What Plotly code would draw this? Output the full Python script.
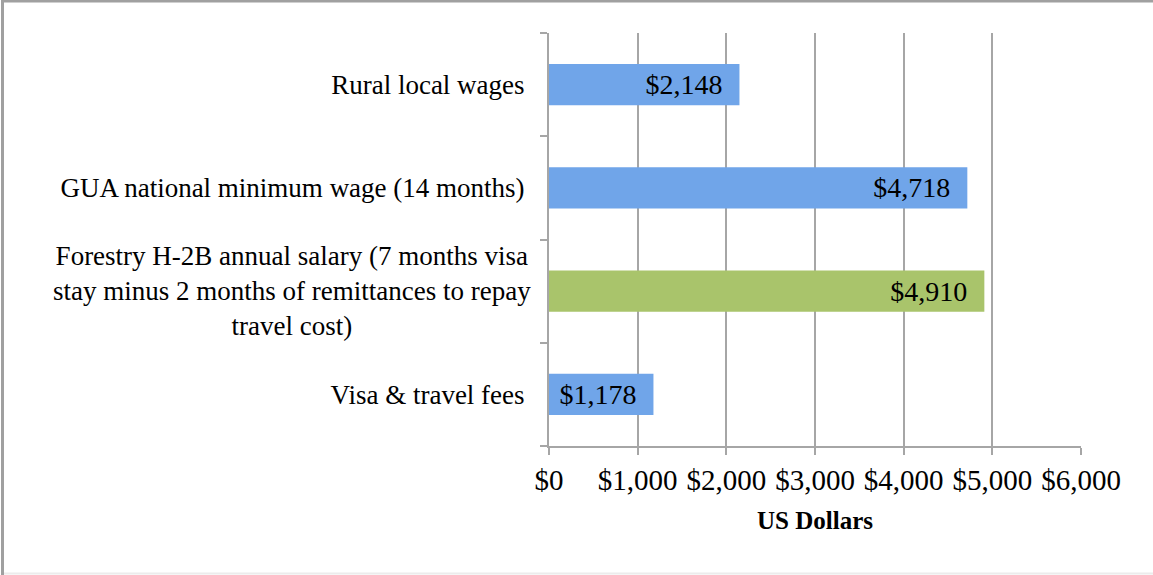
import plotly.graph_objects as go

categories = [
    "Rural local wages",
    "GUA national minimum wage (14 months)",
    "Forestry H-2B annual salary (7 months visa stay minus 2 months of remittances to repay travel cost)",
    "Visa & travel fees",
]
tick_labels = [
    "Rural local wages",
    "GUA national minimum wage (14 months)",
    "",
    "Visa & travel fees",
]
long_label = "Forestry H-2B annual salary (7 months visa<br>stay minus 2 months of remittances to repay<br>travel cost)"
values = [2148, 4718, 4910, 1178]
bar_colors = ["#70a5e9", "#70a5e9", "#a9c46b", "#70a5e9"]
x_ticks = [0, 1000, 2000, 3000, 4000, 5000, 6000]
x_tick_labels = ["$0", "$1,000", "$2,000", "$3,000", "$4,000", "$5,000", "$6,000"]

FONT = "Liberation Serif"
GRID = "#a6a6a6"

W, H = 1153, 575
ML, MR, MT, MB = 549, 72, 33, 129
pw, ph = W - ML - MR, H - MT - MB

fig = go.Figure()
fig.add_trace(go.Bar(
    y=categories,
    x=values,
    orientation="h",
    width=0.4,
    marker=dict(color=bar_colors, line=dict(width=0)),
    text=["${:,}".format(v) + "\u00a0\u00a0" for v in values],
    textposition="inside",
    insidetextanchor="end",
    textfont=dict(family=FONT, size=28, color="black"),
    constraintext="none",
    hoverinfo="skip",
))

def px_x(p):
    return (p - ML) / pw

def px_y(p):
    return (H - MB - p) / ph

fig.add_annotation(
    text=long_label, xref="paper", yref="y", x=px_x(533), y=categories[2],
    xanchor="right", yanchor="middle", align="center", showarrow=False,
    font=dict(family=FONT, size=27, color="black"),
)

# outer frame: left and top strong, bottom faint
fig.add_shape(type="line", xref="paper", yref="paper",
              x0=px_x(2.5), x1=px_x(2.5), y0=px_y(575), y1=px_y(0),
              line=dict(color="#a0a0a0", width=3))
fig.add_shape(type="line", xref="paper", yref="paper",
              x0=px_x(1), x1=px_x(W + 20), y0=px_y(1), y1=px_y(1),
              line=dict(color="#a0a0a0", width=3))
fig.add_shape(type="line", xref="paper", yref="paper",
              x0=px_x(4), x1=px_x(W + 20), y0=px_y(573.5), y1=px_y(573.5),
              line=dict(color="#ececec", width=2))

fig.update_layout(
    width=W, height=H,
    margin=dict(l=ML, r=MR, t=MT, b=MB, pad=0),
    paper_bgcolor="white", plot_bgcolor="white",
    showlegend=False,
    font=dict(family=FONT, size=27, color="black"),
    xaxis=dict(
        range=[0, 6000], tickvals=x_ticks, ticktext=x_tick_labels,
        showgrid=True, gridcolor=GRID, gridwidth=2,
        showline=True, linecolor=GRID, linewidth=2,
        ticks="outside", ticklen=7, tickwidth=2, tickcolor=GRID,
        tickfont=dict(family=FONT, size=29, color="black"),
        zeroline=False,
        title=dict(text="<b>US Dollars</b>", font=dict(family=FONT, size=25, color="black"), standoff=17),
    ),
    yaxis=dict(
        type="category", autorange="reversed",
        tickmode="array", tickvals=categories, ticktext=tick_labels,
        tickson="boundaries",
        showgrid=False, showline=True, linecolor=GRID, linewidth=2,
        ticks="outside", ticklen=7, tickwidth=2, tickcolor=GRID,
        tickfont=dict(family=FONT, size=27, color="black"),
        ticklabelstandoff=17,
        zeroline=False,
    ),
)

fig.write_html(
    "out.html",
    config={"displayModeBar": False},
    post_script="document.body.style.margin='0';document.body.style.overflow='hidden';",
)
